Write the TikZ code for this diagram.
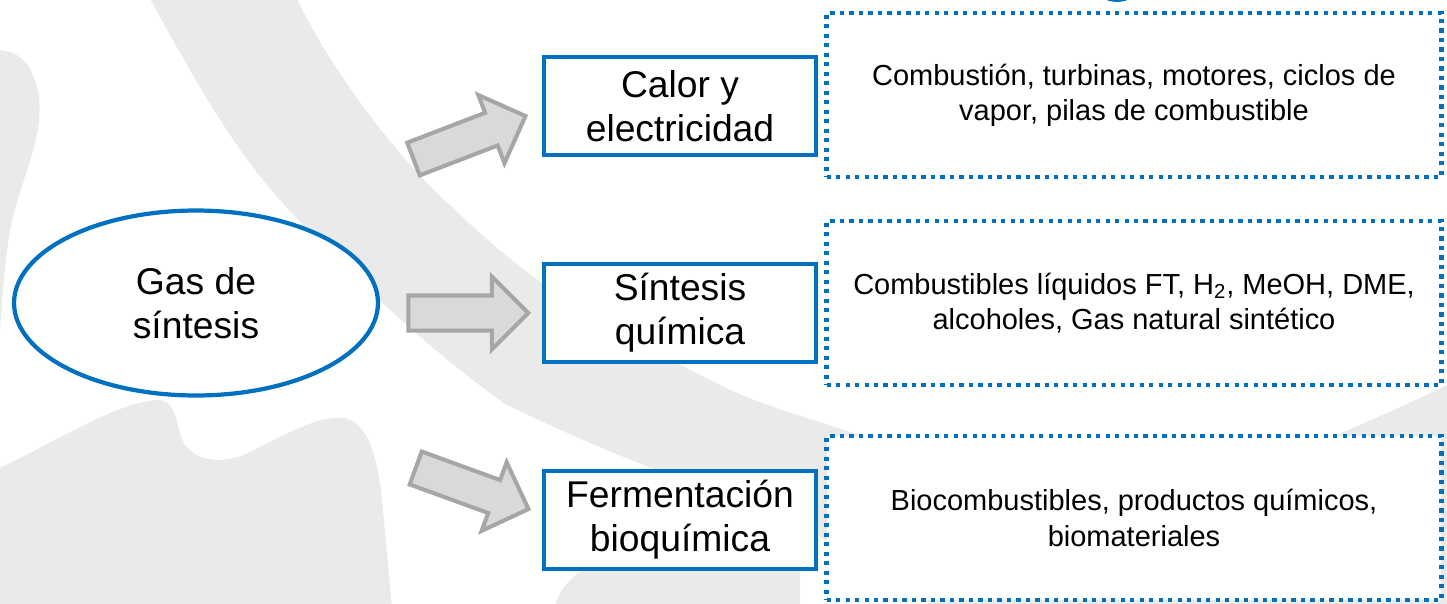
\documentclass[tikz,border=0pt]{standalone}
\usepackage{fontspec}
\setmainfont{Liberation Sans}
\usetikzlibrary{shapes.geometric,shapes.arrows}
\definecolor{boxblue}{HTML}{0070C0}
\definecolor{arrowfill}{HTML}{D9D9D9}
\definecolor{arrowline}{HTML}{A6A6A6}
\definecolor{wmark}{RGB}{234,234,234}

\begin{document}
\begin{tikzpicture}[x=0.02cm, y=-0.02cm,
    big/.style={font=\fontsize{21.2}{25}\selectfont, align=center},
    small/.style={font=\fontsize{16.5}{20}\selectfont, align=center},
    route/.style={rectangle, draw=boxblue, fill=white, line width=2.7pt, minimum width=5.44cm, minimum height=1.96cm, big},
    uses/.style={rectangle, draw=boxblue, fill=white, line width=2.4pt, dash pattern=on 2.4pt off 3pt, minimum width=12.3cm, minimum height=3.27cm, small},
    bigarrow/.style={single arrow, draw=arrowline, fill=arrowfill, line width=2.3pt, minimum height=2.4cm, inner xsep=0pt, inner ysep=0.31cm, single arrow head extend=0.38cm}]
    \useasboundingbox (0,0) rectangle (1447,603);
    % Background
    \begin{scope}
      \clip (0,0) rectangle (1447,603);
      \fill[wmark] (148,-5) .. controls (200,90) and (240,160) .. (294,215)
        .. controls (360,285) and (430,350) .. (505,404)
        .. controls (580,440) and (650,470) .. (720,492)
        .. controls (850,540) and (950,620) .. (1000,650) -- (1500,650) -- (1500,355)
        .. controls (1470,375) and (1440,390) .. (1337,435)
        .. controls (1200,490) and (1000,490) .. (859,435)
        .. controls (800,415) and (760,405) .. (720,385)
        .. controls (640,345) and (590,315) .. (560,295)
        .. controls (520,270) and (470,225) .. (450,205)
        .. controls (420,180) and (340,90) .. (295,-5) -- cycle;
      \fill[wmark] (-5,50) .. controls (15,50) and (32,58) .. (39,96)
        .. controls (44,140) and (20,180) .. (10,230)
        .. controls (4,270) and (2,300) .. (0,330) -- (-5,330) -- cycle;
      \fill[wmark] (-5,470) .. controls (60,440) and (120,400) .. (160,400)
        .. controls (178,402) and (176,430) .. (185,445)
        .. controls (200,465) and (230,462) .. (250,452)
        .. controls (290,432) and (320,415) .. (345,418)
        .. controls (375,425) and (380,480) .. (383,510)
        -- (392,608) -- (-5,608) -- cycle;
      \fill[wmark] (554,608) .. controls (560,585) and (580,565) .. (610,560)
        -- (800,560) -- (800,608) -- cycle;
      \draw[boxblue, line width=1.6pt] (1102,-4) .. controls (1110,2) and (1124,2) .. (1132,-4);
    \end{scope}
    % Nodes
    \node (gas) [ellipse, draw=boxblue, fill=white, line width=2.4pt, minimum width=7.28cm, minimum height=3.7cm, big] at (196,303) {Gas de\\síntesis};
    \node (calor) [route] at (680,106) {Calor y\\electricidad};
    \node (sint) [route] at (680,313) {Síntesis\\química};
    \node (ferm) [route] at (680,520) {Fermentación\\bioquímica};
    \node (uso1) [uses] at (1134,95) {Combustión, turbinas, motores, ciclos de\\vapor, pilas de combustible};
    \node (uso2) [uses] at (1134,303) {Combustibles líquidos FT, H\textsubscript{2}, MeOH, DME,\\alcoholes, Gas natural sintético};
    \node (uso3) [uses] at (1134,518) {Biocombustibles, productos químicos,\\biomateriales};
    % Arrows
    \node (a1) [bigarrow, rotate=21, anchor=tip] at ([shift={(-0.27cm,-0.18cm)}]calor.west) {};
    \node (a2) [bigarrow, anchor=tip] at ([xshift=-0.21cm]sint.west) {};
    \node (a3) [bigarrow, rotate=-20, anchor=tip] at ([shift={(-0.21cm,0.2cm)}]ferm.west) {};
\end{tikzpicture}
\end{document}
